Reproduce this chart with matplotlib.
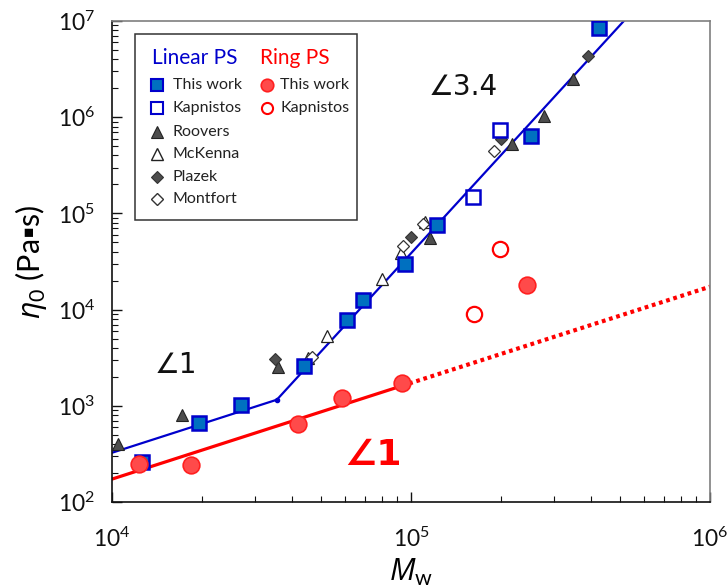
import matplotlib
matplotlib.use("Agg")
import matplotlib.pyplot as plt
from matplotlib.patches import Rectangle
from matplotlib.ticker import LogLocator, NullFormatter

plt.rcParams['font.family'] = ['Lato', 'DejaVu Sans']
plt.rcParams['mathtext.fontset'] = 'custom'
plt.rcParams['mathtext.rm'] = 'Lato'
plt.rcParams['mathtext.it'] = 'Open Sans:italic'

# ---- data: zero-shear viscosity vs molecular weight ----
lin_this_mw = [12600, 19500, 27000, 43800, 61000, 69000, 95500, 122000, 252000, 425000]
lin_this_eta = [261, 662, 1020, 2590, 7800, 12600, 29800, 75700, 638000, 8.45e6]

lin_kap_mw = [161000, 199000]
lin_kap_eta = [148000, 736000]

roovers_mw = [10500, 17100, 35800, 115700, 217000, 278000, 349000]
roovers_eta = [400, 802, 2550, 55100, 527000, 1.04e6, 2.49e6]

mckenna_mw = [45400, 52200, 79800, 92500, 111000]
mckenna_eta = [3160, 5320, 20600, 38500, 82000]

plazek_mw = [35100, 100300, 200000, 391000]
plazek_eta = [3040, 57300, 590000, 4.37e6]

montfort_mw = [46500, 93700, 110000, 190000]
montfort_eta = [3200, 46100, 77600, 446000]

ring_this_mw = [12300, 18400, 41800, 58600, 93300, 244000]
ring_this_eta = [247, 240, 647, 1200, 1730, 17900]

ring_kap_mw = [162000, 199000]
ring_kap_eta = [8930, 42600]

# power-law guides: slope 1 then slope 3.4 (linear), slope 1 (ring)
lin_fit_mw = [1e4, 35600, 515000]
lin_fit_eta = [325, 1157, 1e7]
ring_fit_mw = [1e4, 93300]
ring_fit_eta = [173, 1614]
ring_ext_mw = [93300, 1e6]
ring_ext_eta = [1614, 17300]

fig = plt.figure(figsize=(7.27, 5.87), dpi=100)
ax = fig.add_axes([112/727, 1-502/587, 598/727, 481/587])
ax.set_xscale('log')
ax.set_yscale('log')
ax.set_xlim(1e4, 1e6)
ax.set_ylim(1e2, 1e7)

blue_edge = '#0000CC'
blue_fill = '#0070C0'
red = '#FF0000'
red_fill = '#FF4A4A'
dark = '#4D4D4D'

# guide lines
ax.plot(lin_fit_mw, lin_fit_eta, color=blue_edge, lw=1.6, zorder=2)
ax.plot(lin_fit_mw[1:2], lin_fit_eta[1:2], 'o', color=blue_edge, ms=3, zorder=2)
ax.plot(ring_fit_mw, ring_fit_eta, color=red, lw=2.3, zorder=2)
ax.plot(ring_ext_mw, ring_ext_eta, color=red, lw=3, linestyle=(0, (0.9, 0.9)),
        dash_capstyle='butt', zorder=2)

# literature data
ax.plot(roovers_mw, roovers_eta, '^', ms=9, mfc=dark, mec='#222222', mew=0.8, ls='none', zorder=3)
ax.plot(mckenna_mw, mckenna_eta, '^', ms=9, mfc='white', mec='#222222', mew=0.9, ls='none', zorder=3)
ax.plot(plazek_mw, plazek_eta, 'D', ms=6.5, mfc=dark, mec='#333333', mew=0.8, ls='none', zorder=3)
ax.plot(montfort_mw, montfort_eta, 'D', ms=6.5, mfc='white', mec='#333333', mew=0.9, ls='none', zorder=3)
ax.plot(lin_kap_mw, lin_kap_eta, 's', ms=10, mfc='white', mec=blue_edge, mew=1.8, ls='none', zorder=4)
ax.plot(ring_kap_mw, ring_kap_eta, 'o', ms=11, mfc='white', mec=red, mew=1.6, ls='none', zorder=4)

# this work
ax.plot(lin_this_mw, lin_this_eta, 's', ms=10, mfc=blue_fill, mec=blue_edge, mew=1.8, ls='none', zorder=5)
ax.plot(ring_this_mw, ring_this_eta, 'o', ms=12, mfc=red_fill, mec='#FF2020', mew=1.2, ls='none', zorder=5)

# slope annotations
ax.text(16300, 2650, '∠1', fontsize=20, ha='center', va='center', color='#111111',
        family='DejaVu Sans')
ax.text(149000, 2.06e6, '∠3.4', fontsize=20, ha='center', va='center', color='#111111',
        family='DejaVu Sans')
ax.text(74700, 308, '∠1', fontsize=26, ha='center', va='center', color=red,
        fontweight='bold', family='DejaVu Sans')

# legend box
ax.add_patch(Rectangle((0.0385, 0.586), 0.3715, 0.387, transform=ax.transAxes,
                       fill=False, ec='#333333', lw=1.1, zorder=6))
ax.text(0.0669, 0.923, 'Linear PS', transform=ax.transAxes, color=blue_edge,
        fontsize=15, va='center', ha='left')
ax.text(0.247, 0.923, 'Ring PS', transform=ax.transAxes, color=red,
        fontsize=15, va='center', ha='left')

rows = [0.867, 0.819, 0.769, 0.723, 0.676, 0.630]
lin_entries = [
    ('This work', dict(marker='s', ms=8, mfc=blue_fill, mec=blue_edge, mew=1.5)),
    ('Kapnistos', dict(marker='s', ms=8, mfc='white', mec=blue_edge, mew=1.5)),
    ('Roovers', dict(marker='^', ms=8, mfc=dark, mec='#222222', mew=0.8)),
    ('McKenna', dict(marker='^', ms=8, mfc='white', mec='#222222', mew=1.0)),
    ('Plazek', dict(marker='D', ms=6.5, mfc=dark, mec='#333333', mew=0.8)),
    ('Montfort', dict(marker='D', ms=6.5, mfc='white', mec='#333333', mew=1.0)),
]
ring_entries = [
    ('This work', dict(marker='o', ms=9, mfc=red_fill, mec='#FF2020', mew=1.2)),
    ('Kapnistos', dict(marker='o', ms=8, mfc='white', mec=red, mew=1.5)),
]
for fy, (label, style) in zip(rows, lin_entries):
    ax.plot([0.0753], [fy], transform=ax.transAxes, ls='none', clip_on=False, zorder=7, **style)
    ax.text(0.102, fy, label, transform=ax.transAxes, fontsize=11.5, va='center',
            ha='left', color='#222222')
for fy, (label, style) in zip(rows, ring_entries):
    ax.plot([0.259], [fy], transform=ax.transAxes, ls='none', clip_on=False, zorder=7, **style)
    ax.text(0.281, fy, label, transform=ax.transAxes, fontsize=11.5, va='center',
            ha='left', color='#222222')

# axes styling
for side in ('top', 'right'):
    ax.spines[side].set_color('#7F7F7F')
for side in ('left', 'bottom'):
    ax.spines[side].set_color('#111111')
for sp in ax.spines.values():
    sp.set_linewidth(1.2)

ax.xaxis.set_major_locator(LogLocator(base=10, numticks=10))
ax.yaxis.set_major_locator(LogLocator(base=10, numticks=10))
ax.xaxis.set_minor_locator(LogLocator(base=10, subs=range(2, 10), numticks=20))
ax.yaxis.set_minor_locator(LogLocator(base=10, subs=range(2, 10), numticks=20))
ax.xaxis.set_minor_formatter(NullFormatter())
ax.yaxis.set_minor_formatter(NullFormatter())
ax.tick_params(which='major', direction='in', length=7, width=1, labelsize=16.5,
               colors='#111111', pad=12, top=False, right=False)
ax.tick_params(which='minor', direction='in', length=4, width=0.8,
               colors='#111111', top=False, right=False)
ax.tick_params(axis='x', which='major', pad=18)

ax.set_xlabel(r'$\mathit{M}_{\mathrm{w}}$', fontsize=22, labelpad=4)
ax.set_ylabel(r'$\mathit{\eta}_0$ (Pa▪s)', fontsize=22, labelpad=6)

fig.savefig('out.png', dpi=100)
